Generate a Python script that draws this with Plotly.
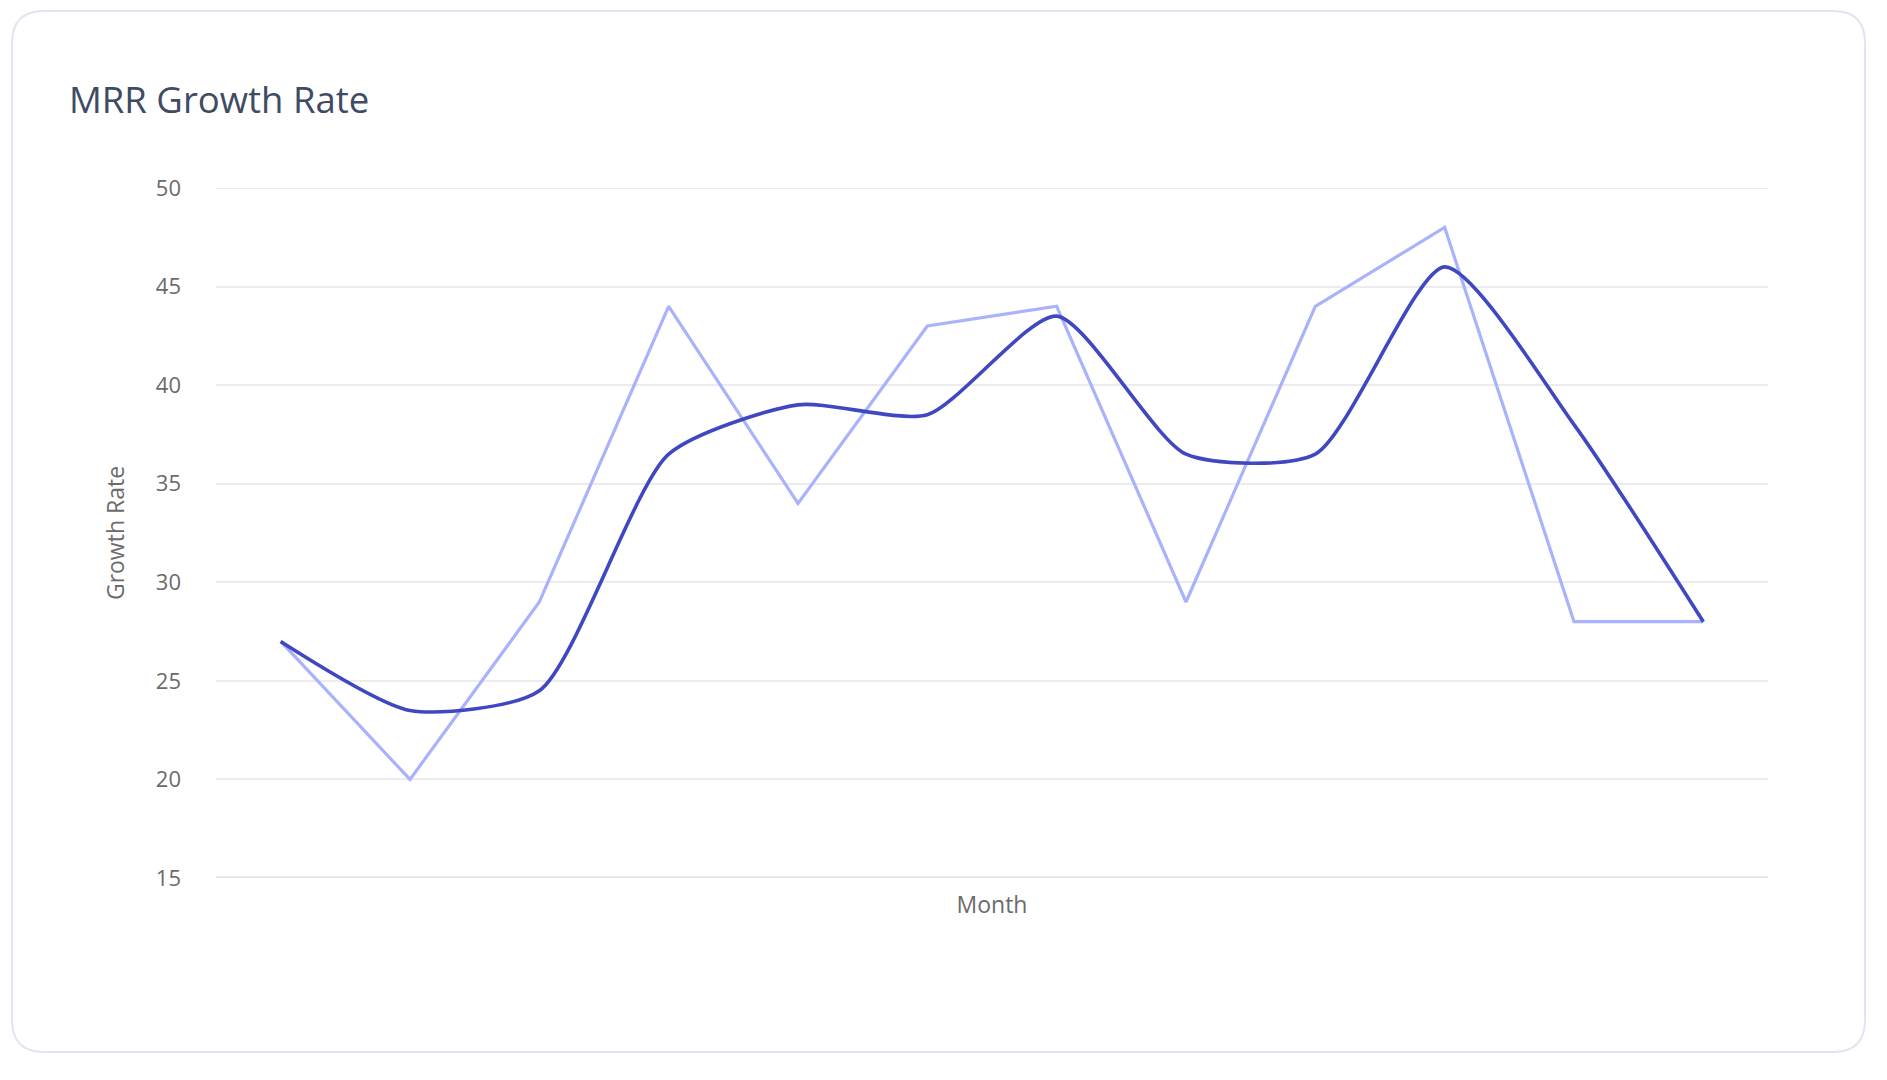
import plotly.graph_objects as go

months = ["Jan", "Feb", "Mar", "Apr", "May", "Jun", "Jul", "Aug", "Sep", "Oct", "Nov", "Dec"]
growth_rate = [27, 20, 29, 44, 34, 43, 44, 29, 44, 48, 28, 28]
smoothed_rate = [27, 23.5, 24.5, 36.5, 39, 38.5, 43.5, 36.5, 36.5, 46, 38, 28]
y_ticks = [15, 20, 25, 30, 35, 40, 45, 50]

# page has an 8px body margin; figure fills the remaining window
W, H = 1871, 1064
L, T = 208, 180
R, B = W - 1760, H - 870
PW, PH = W - L - R, H - T - B

def px(x):
    return (x - L) / PW

def py(y):
    return (H - B - y) / PH

FONT = "Open Sans"
GRID = "#ececef"

fig = go.Figure()
fig.add_trace(go.Scatter(
    x=months, y=growth_rate, mode="lines",
    line=dict(color="#a9b2fb", width=3.2),
    name="Growth Rate", hoverinfo="x+y",
))
fig.add_trace(go.Scatter(
    x=months, y=smoothed_rate, mode="lines",
    line=dict(color="#3f48c0", width=3.6, shape="spline", smoothing=0.65),
    name="Trend", hoverinfo="x+y",
))

# card background with rounded corners
x0, x1, y0, y1, r = 4, 1857, 3, 1044, 32
rx, ry = r / PW, r / PH
X0, X1, Y0, Y1 = px(x0), px(x1), py(y0), py(y1)
path = (f"M {X0+rx},{Y0} L {X1-rx},{Y0} Q {X1},{Y0} {X1},{Y0-ry} "
        f"L {X1},{Y1+ry} Q {X1},{Y1} {X1-rx},{Y1} "
        f"L {X0+rx},{Y1} Q {X0},{Y1} {X0},{Y1+ry} "
        f"L {X0},{Y0-ry} Q {X0},{Y0} {X0+rx},{Y0} Z")
fig.add_shape(type="path", path=path, xref="paper", yref="paper",
              line=dict(color="#e1e4f1", width=2), fillcolor="white", layer="below")

fig.update_layout(
    width=W, height=H,
    margin=dict(l=L, r=R, t=T, b=B, pad=0),
    paper_bgcolor="white", plot_bgcolor="rgba(0,0,0,0)",
    showlegend=False,
    font=dict(family=FONT, color="#6b6b6b", size=22),
    title=dict(text="MRR Growth Rate", x=61 / W, xref="container", xanchor="left",
               y=1 - 92 / H, yref="container", yanchor="middle",
               font=dict(family=FONT, size=36.5, color="#3f4b64")),
    xaxis=dict(
        range=[-0.5, 11.5], showticklabels=False, ticks="", showgrid=False,
        zeroline=False, showline=False,
        title=dict(text="Month", standoff=18, font=dict(size=23, color="#6b6b6b")),
    ),
    yaxis=dict(
        range=[15, 50], tickvals=y_ticks, ticks="", showline=False, zeroline=False,
        gridcolor=GRID, gridwidth=2, ticklabelstandoff=34,
        tickfont=dict(size=22, color="#6b6b6b"),
        title=dict(text="Growth Rate", standoff=24, font=dict(size=23, color="#6b6b6b")),
    ),
)
fig.add_shape(type="line", xref="paper", yref="y", x0=0, x1=1, y0=50, y1=50,
              line=dict(color=GRID, width=2), layer="below")
fig.add_shape(type="line", xref="paper", yref="y", x0=0, x1=1, y0=15, y1=15,
              line=dict(color="#dfe3ef", width=3), layer="above")

fig.write_html("out.html")
